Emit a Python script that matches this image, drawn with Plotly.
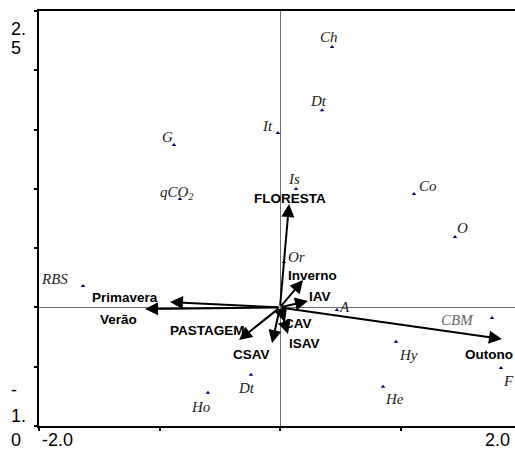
import plotly.graph_objects as go

# Species scores (biplot points)
species = ["G", "qCO<sub>2</sub>", "Ch", "Dt", "It", "Is", "Co", "O", "Or", "A",
           "CBM", "Hy", "F", "He", "RBS", "Dt", "Ho"]
sp_x = [-0.880, -0.830, 0.432, 0.349, -0.017, 0.133, 1.112, 1.452, 0.033, 0.473,
        1.759, 0.963, 1.834, 0.855, -1.635, -0.241, -0.598]
sp_y = [1.369, 0.914, 2.196, 1.664, 1.471, 0.999, 0.956, 0.594, 0.383, -0.022,
        -0.089, -0.290, -0.510, -0.670, 0.180, -0.568, -0.720]

# Environmental variable vectors
env = ["FLORESTA", "Primavera", "Verão", "Outono", "Inverno", "IAV", "CAV", "ISAV",
       "CSAV", "PASTAGEM"]
env_x = [0.075, -0.913, -1.120, 1.842, 0.191, 0.232, 0.041, 0.066, -0.066, -0.340]
env_y = [0.872, 0.046, -0.013, -0.267, 0.231, 0.054, -0.123, -0.224, -0.300, -0.275]

# label pixel offsets (style)
sp_dx = [-6, -3, -3, -4, -10, -2, 14, 8, 13, 7, -34, 12, 7, 11, -28, -4, -7]
sp_dy = [8, 6, 10, 9, 7, 10, 8, 9, 5, 3, -2, -13, -13, -12, 7, -13, -14]
env_dx = [1, -45, -27, -13, 9, 12, 13, 17, -21, -32]
env_dy = [6, 4, -11, -15, 5, 5, -1, -10, -11, 10]

fig = go.Figure()
fig.add_trace(go.Scatter(
    x=sp_x, y=sp_y, mode="markers",
    marker=dict(symbol="triangle-up", size=4, color="#00007a"),
    hoverinfo="skip", showlegend=False))

ann = []
for i, name in enumerate(species):
    ann.append(dict(x=sp_x[i], y=sp_y[i], xref="x", yref="y", text="<i>%s</i>" % name,
                    showarrow=False, xshift=sp_dx[i], yshift=sp_dy[i],
                    font=dict(family="Liberation Serif", size=15,
                              color="#666666" if name == "CBM" else "#222222"),
                    ))
for i, name in enumerate(env):
    ann.append(dict(x=env_x[i], y=env_y[i], xref="x", yref="y", ax=0, ay=0,
                    axref="x", ayref="y", text="", showarrow=True,
                    arrowhead=2, arrowsize=1.3, arrowwidth=2, arrowcolor="black"))
    ann.append(dict(x=env_x[i], y=env_y[i], xref="x", yref="y", text="<b>%s</b>" % name,
                    showarrow=False, xshift=env_dx[i], yshift=env_dy[i],
                    font=dict(family="Liberation Sans", size=13.5, color="black")))

# axis tick labels (wrapped as in the reference)
W, H, L, T, B = 515, 453, 39, 11, 27
pw, ph = W - L, H - T - B

def px(x):
    return (x - L) / pw

def py(y):
    return (H - B - y) / ph

tick_font = dict(family="Liberation Sans", size=18, color="black")
for txt, x, y, xa in [("2.", 9, 29, "left"), ("5", 9, 48, "left"),
                      ("-", 9, 390, "left"), ("1.", 9, 416, "left"), ("0", 9, 440, "left"),
                      ("-2.0", 40, 440, "left"), ("2.0", 512, 440, "right")]:
    ann.append(dict(x=px(x), y=py(y), xref="paper", yref="paper", text=txt,
                    showarrow=False, xanchor=xa, yanchor="middle", font=tick_font))

fig.update_layout(
    width=W, height=H,
    margin=dict(l=L, r=0, t=T, b=B),
    plot_bgcolor="white", paper_bgcolor="white",
    annotations=ann,
    xaxis=dict(range=[-2.0, (W - 280) / 120.5], showgrid=False,
               zeroline=True, zerolinecolor="#6e6e6e", zerolinewidth=1,
               showline=True, linecolor="black", linewidth=2, mirror=True,
               ticks="outside", ticklen=3, tickwidth=2, tickcolor="black",
               tick0=-2, dtick=1, showticklabels=False),
    yaxis=dict(range=[-1.0, 2.5], showgrid=False,
               zeroline=True, zerolinecolor="#6e6e6e", zerolinewidth=1,
               showline=True, linecolor="black", linewidth=2, mirror=False,
               ticks="outside", ticklen=3, tickwidth=2, tickcolor="black",
               tick0=-1, dtick=0.5, showticklabels=False),
)

fig.write_html("out.html", config={"displayModeBar": False},
               post_script="document.body.style.margin='0';")
